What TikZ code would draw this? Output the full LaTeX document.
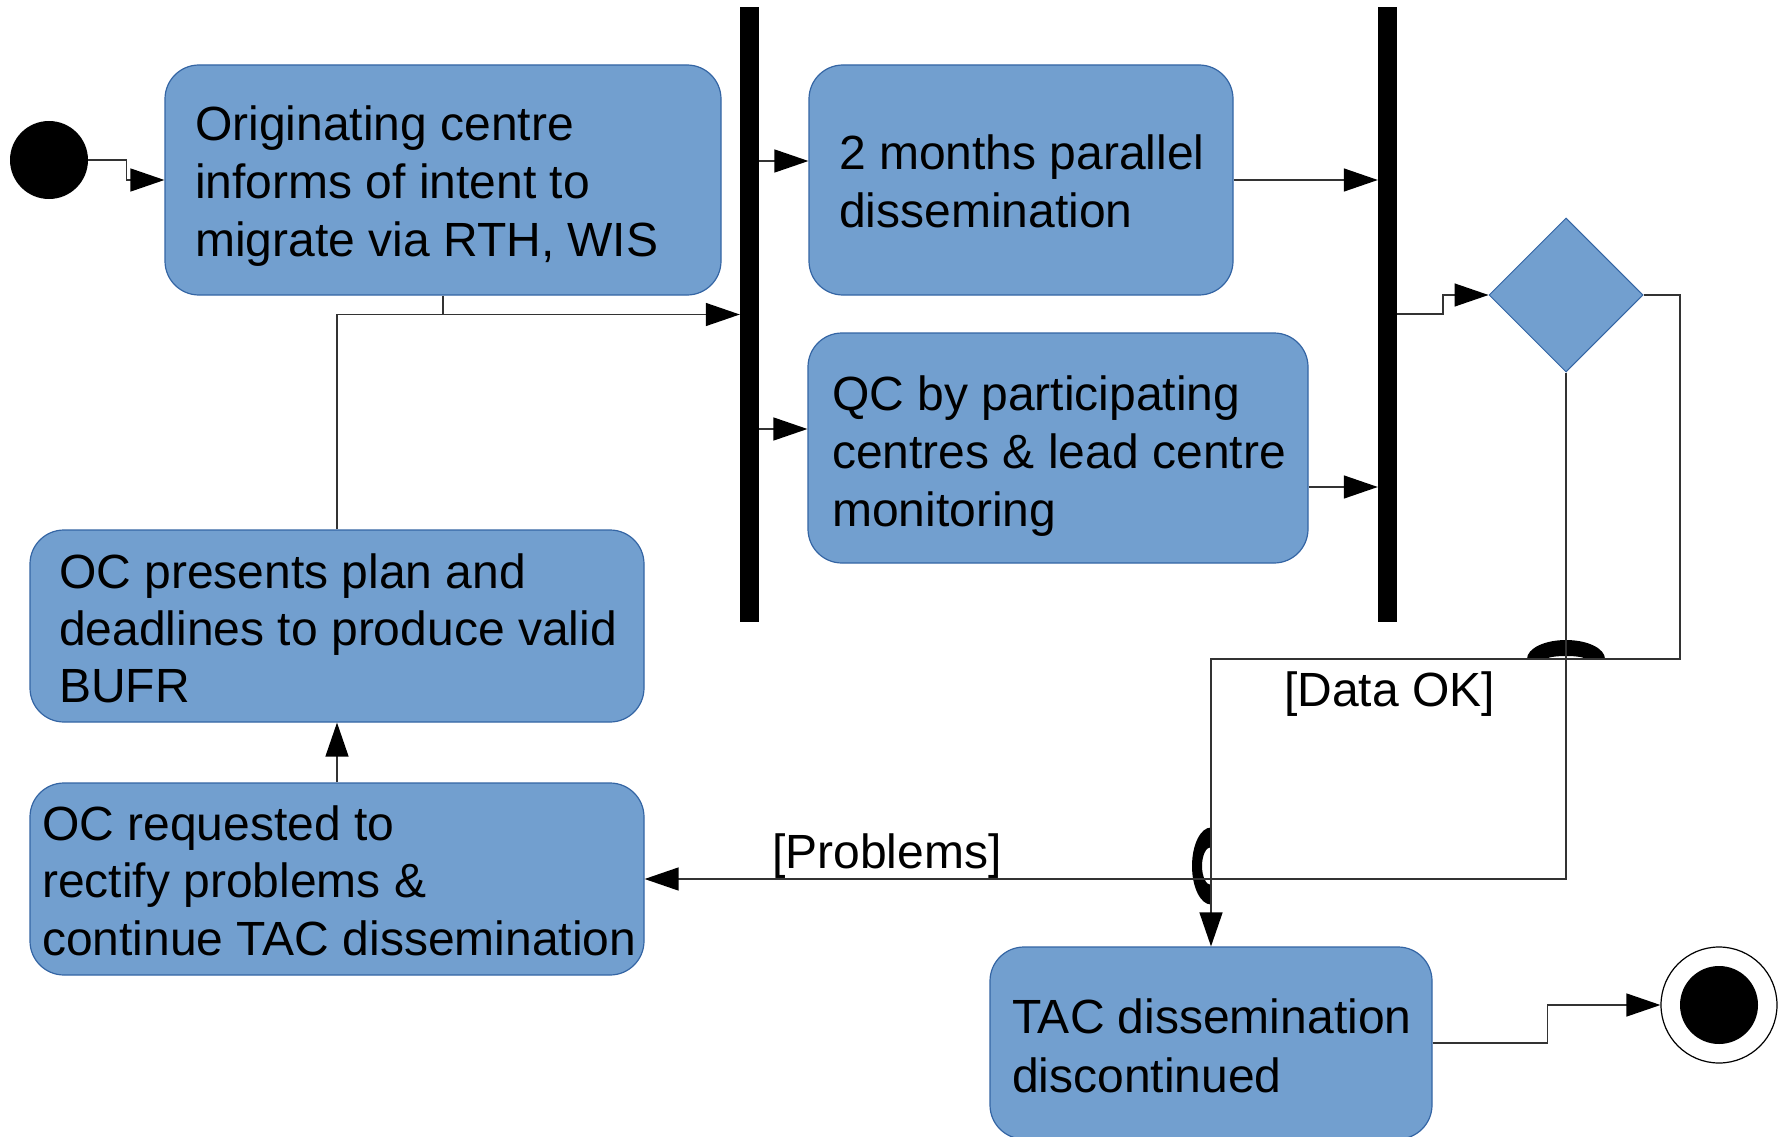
\documentclass[tikz,border=0pt]{standalone}
\usepackage{fontspec}
\setmainfont{Liberation Sans}
\usetikzlibrary{arrows.meta,shapes.geometric}
\definecolor{boxfill}{HTML}{729FCF}
\definecolor{boxborder}{HTML}{3465A4}
\definecolor{linecol}{HTML}{333333}
\begin{document}
\begin{tikzpicture}[x=1pt,y=-1pt,
  box/.style={draw=boxborder, fill=boxfill, rounded corners=34pt, line width=1.2pt, inner sep=0pt, minimum width=#1},
  txt/.style={anchor=north west, inner sep=0pt, align=left, font=\fontsize{48pt}{58pt}\selectfont},
  lbl/.style={anchor=base west, inner sep=0pt, font=\fontsize{48pt}{58pt}\selectfont},
  bar/.style={fill=black, draw=none, inner sep=0pt, minimum width=19pt, minimum height=615pt},
  conn/.style={draw=linecol, line width=1.4pt},
  arr/.style={conn, -{Triangle[length=34pt,width=23pt,color=black]}},
  jump/.style={fill=black, draw=none}
]
\useasboundingbox[fill=white] (0,0) rectangle (1785,1137);

% start and end
\node[circle, fill=black, inner sep=0pt, minimum size=78pt] (start) at (49,160) {};
\node[circle, draw=black, line width=1.2pt, fill=white, inner sep=0pt, minimum size=116pt] (endc) at (1719,1005) {};
\node[circle, fill=black, inner sep=0pt, minimum size=78pt] (endi) at (endc.center) {};

% activity boxes
\node[box=556pt, minimum height=230pt] (b1) at (443,180) {};
\node[box=424pt, minimum height=230pt] (b2) at (1021,180) {};
\node[box=500pt, minimum height=230pt] (b3) at (1058,448) {};
\node[box=614pt, minimum height=192pt] (b4) at (337,626) {};
\node[box=614pt, minimum height=192pt] (b5) at (337,879) {};
\node[box=442pt, minimum height=192pt] (b6) at (1211,1043) {};

\node[txt] (t1) at (195,100) {\rule{0pt}{40pt}Originating centre\\informs of intent to\\migrate via RTH, WIS};
\node[txt] (t2) at (839,129) {\rule{0pt}{40pt}2 months parallel\\dissemination};
\node[txt] (t3) at (832,370) {\rule{0pt}{40pt}QC by participating\\centres \& lead centre\\monitoring};
\node[txt, font=\fontsize{48pt}{57pt}\selectfont] (t4) at (59,548) {\rule{0pt}{40pt}OC presents plan and\\deadlines to produce valid\\BUFR};
\node[txt, font=\fontsize{48pt}{57.5pt}\selectfont] (t5) at (42,800) {\rule{0pt}{40pt}OC requested to\\rectify problems \&\\continue TAC dissemination};
\node[txt, font=\fontsize{48pt}{59pt}\selectfont] (t6) at (1012,993) {\rule{0pt}{40pt}TAC dissemination\\discontinued};

% fork / join bars
\node[bar] (bar1) at (749.5,314.5) {};
\node[bar] (bar2) at (1387.5,314.5) {};

% decision
\node[diamond, fill=boxfill, draw=boxborder, line width=1pt, inner sep=0pt, minimum width=154pt, minimum height=154pt] (dia) at (1566,295) {};

% jump arcs
\fill[jump] (1527,659) arc[start angle=180, end angle=0, x radius=39pt, y radius=19pt]
  -- (1585,659) arc[start angle=0, end angle=180, x radius=19pt, y radius=3pt] -- cycle;
\fill[jump] (1211,827.5) arc[start angle=90, end angle=270, x radius=19pt, y radius=38.5pt]
  -- (1211,885) arc[start angle=270, end angle=90, x radius=9pt, y radius=19pt] -- cycle;

% connectors
\draw[arr] (start.east) -- ++(38,0) |- (b1.west);
\draw[arr] (b1.south) |- (bar1.west);
\draw[conn] (b4.north) |- (b1.south |- bar1.west);
\draw[arr] (bar1.east |- 0,161) -- (b2.west |- 0,161);
\draw[arr] (bar1.east |- 0,429) -- (b3.west |- 0,429);
\draw[arr] (b2.east) -- (bar2.west |- b2.east);
\draw[arr] (b3.east |- 0,487) -- (bar2.west |- 0,487);
\coordinate (k1) at (1443,314);
\draw[arr] (bar2.east |- k1) -- (k1) |- (dia.west);
\coordinate (k2) at (1680,659);
\draw[arr] (dia.east) -| (k2) -| (b6.north);
\draw[arr] (dia.south) |- (b5.east);
\draw[arr] (b5.north) -- (b4.south);
\draw[arr] (b6.east) -- ++(115,0) |- (endc.west);

% guard labels
\node[lbl] (lok) at (1284,706) {[Data OK]};
\node[lbl] (lpr) at (772,868) {[Problems]};
\end{tikzpicture}
\end{document}
